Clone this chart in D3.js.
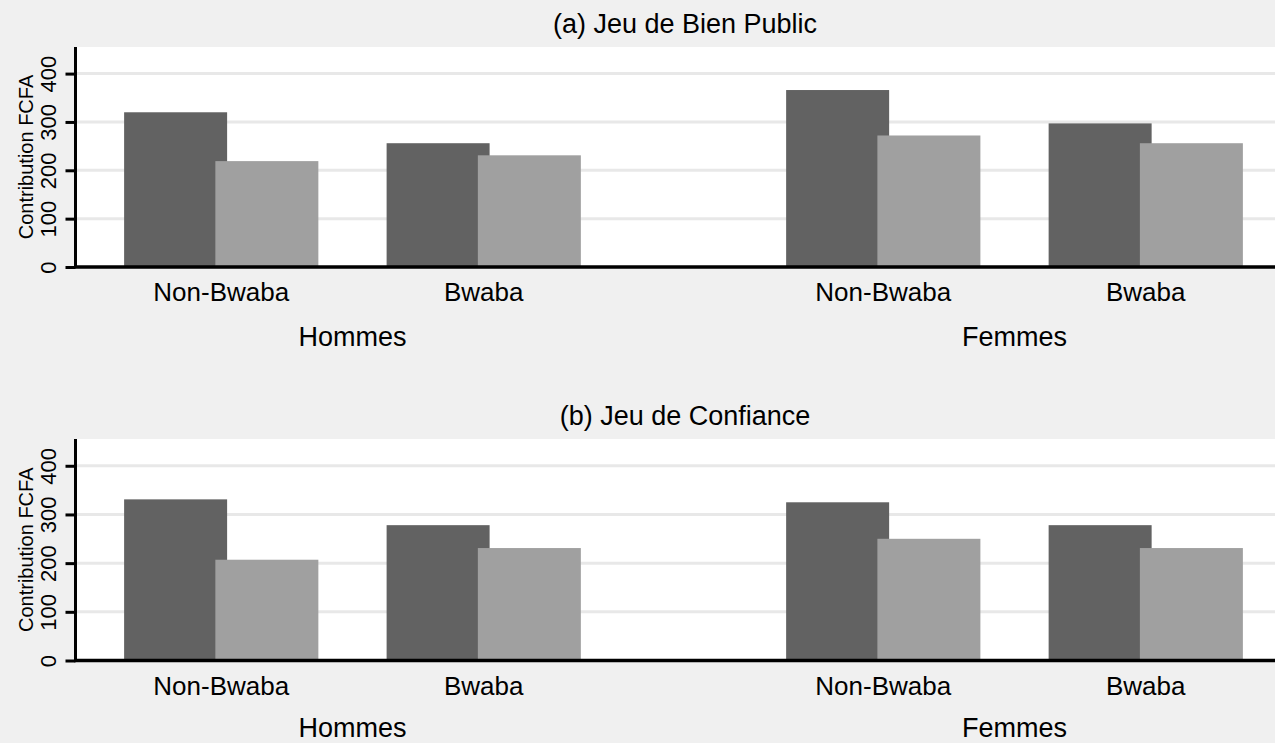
<!DOCTYPE html>
<html>
<head>
<meta charset="utf-8">
<script src="https://cdn.jsdelivr.net/npm/d3@7"></script>
<style>
  body { margin: 0; background: #f0f0f0; }
  svg { display: block; font-family: "Liberation Sans", Arial, sans-serif; }
</style>
</head>
<body>
<svg id="chart" width="1275" height="743"></svg>
<script>
// data
const sexes = ['Hommes', 'Femmes']
const ethnies = ['Non-Bwaba', 'Bwaba']
const series = ['s1', 's2']
const yTicks = [0, 100, 200, 300, 400]
// order: Hommes/Non-Bwaba, Hommes/Bwaba, Femmes/Non-Bwaba, Femmes/Bwaba
const bienPublicS1 = [320, 256, 366, 297]
const bienPublicS2 = [219, 231, 272, 256]
const confianceS1 = [331, 278, 325, 278]
const confianceS2 = [207, 231, 250, 231]

const panels = [
  { title: '(a) Jeu de Bien Public', s1: bienPublicS1, s2: bienPublicS2, top: 47, bottom: 267, groupDy: 79 },
  { title: '(b) Jeu de Confiance', s1: confianceS1, s2: confianceS2, top: 439, bottom: 660.5, groupDy: 76 }
]

const W = 1275
const plotLeft = 77
const plotRight = W
const yMax = 455
const barW = 103
const colors = { s1: '#626262', s2: '#a0a0a0' }
const titleX = 685

let svg = d3.select('#chart')

let xOuter = d3.scaleBand()
  .domain(sexes)
  .range([plotLeft + 2, plotRight + 2])
  .paddingInner(0.207)
  .paddingOuter(0.0083)
  .align(1)

let xInner = d3.scaleBand()
  .domain(ethnies)
  .range([0, xOuter.bandwidth()])
  .paddingInner(0.26)
  .paddingOuter(0.13)

let xSeries = d3.scalePoint()
  .domain(series)
  .range([0, xInner.bandwidth() - barW])

let drawPanel = function (p) {
  let g = svg.append('g')
  let yScale = d3.scaleLinear().domain([0, yMax]).range([p.bottom, p.top])

  // plot region
  g.append('rect')
    .attr('x', plotLeft).attr('y', p.top)
    .attr('width', plotRight - plotLeft).attr('height', p.bottom - p.top)
    .style('fill', '#fff')

  // grid
  g.append('g').selectAll('line')
    .data(yTicks.filter(t => t > 0))
    .enter().append('line')
    .attr('x1', plotLeft).attr('x2', plotRight)
    .attr('y1', d => yScale(d)).attr('y2', d => yScale(d))
    .style('stroke', '#e8e8e8').style('stroke-width', 3)

  // bars
  let rows = []
  sexes.forEach((s, i) => ethnies.forEach((e, j) => {
    rows.push({ sex: s, eth: e, s1: p.s1[i * 2 + j], s2: p.s2[i * 2 + j] })
  }))
  let cells = g.append('g').selectAll('g')
    .data(rows)
    .enter().append('g')
    .attr('transform', d => `translate(${xOuter(d.sex) + xInner(d.eth)}, 0)`)
  series.forEach(k => {
    cells.append('rect')
      .attr('x', xSeries(k))
      .attr('y', d => yScale(d[k]))
      .attr('width', barW)
      .attr('height', d => yScale(0) - yScale(d[k]))
      .style('fill', colors[k])
  })

  // y axis
  let axis = g.append('g')
    .attr('transform', `translate(${plotLeft - 1.5}, 0)`)
    .call(d3.axisLeft(yScale).tickValues(yTicks).tickSize(10).tickSizeOuter(0))
  axis.select('.domain').remove()
  axis.append('line')
    .attr('x1', 0).attr('x2', 0).attr('y1', p.top).attr('y2', p.bottom)
    .style('stroke', '#000').style('stroke-width', 3)
  axis.selectAll('.tick line').style('stroke', '#000').style('stroke-width', 3)
  axis.selectAll('.tick text')
    .attr('transform', 'rotate(-90)')
    .attr('x', 0).attr('y', -20).attr('dy', 0)
    .style('text-anchor', 'middle')
    .style('font-family', '"Liberation Sans Narrow", "Liberation Sans", Arial')
    .style('font-size', '22px')
    .style('fill', '#000')

  // x baseline
  g.append('line')
    .attr('x1', plotLeft - 3).attr('x2', plotRight)
    .attr('y1', yScale(0)).attr('y2', yScale(0))
    .style('stroke', '#000').style('stroke-width', 3.5)

  // y title
  g.append('text')
    .attr('transform', `translate(33, ${(p.top + p.bottom) / 2}) rotate(-90)`)
    .style('text-anchor', 'middle')
    .style('font-size', '20px')
    .text('Contribution FCFA')

  // title
  g.append('text')
    .attr('x', titleX).attr('y', p.top - 14)
    .style('text-anchor', 'middle')
    .style('font-size', '27px')
    .text(p.title)

  // category labels
  g.append('g').selectAll('text')
    .data(rows)
    .enter().append('text')
    .attr('x', d => xOuter(d.sex) + xInner(d.eth) + xInner.bandwidth() / 2)
    .attr('y', yScale(0) + 34)
    .style('text-anchor', 'middle')
    .style('font-size', '26px')
    .text(d => d.eth)

  g.append('g').selectAll('text')
    .data(sexes)
    .enter().append('text')
    .attr('x', d => xOuter(d) + xOuter.bandwidth() / 2)
    .attr('y', yScale(0) + p.groupDy)
    .style('text-anchor', 'middle')
    .style('font-size', '27px')
    .text(d => d)
}

panels.forEach(drawPanel)
</script>
</body>
</html>
